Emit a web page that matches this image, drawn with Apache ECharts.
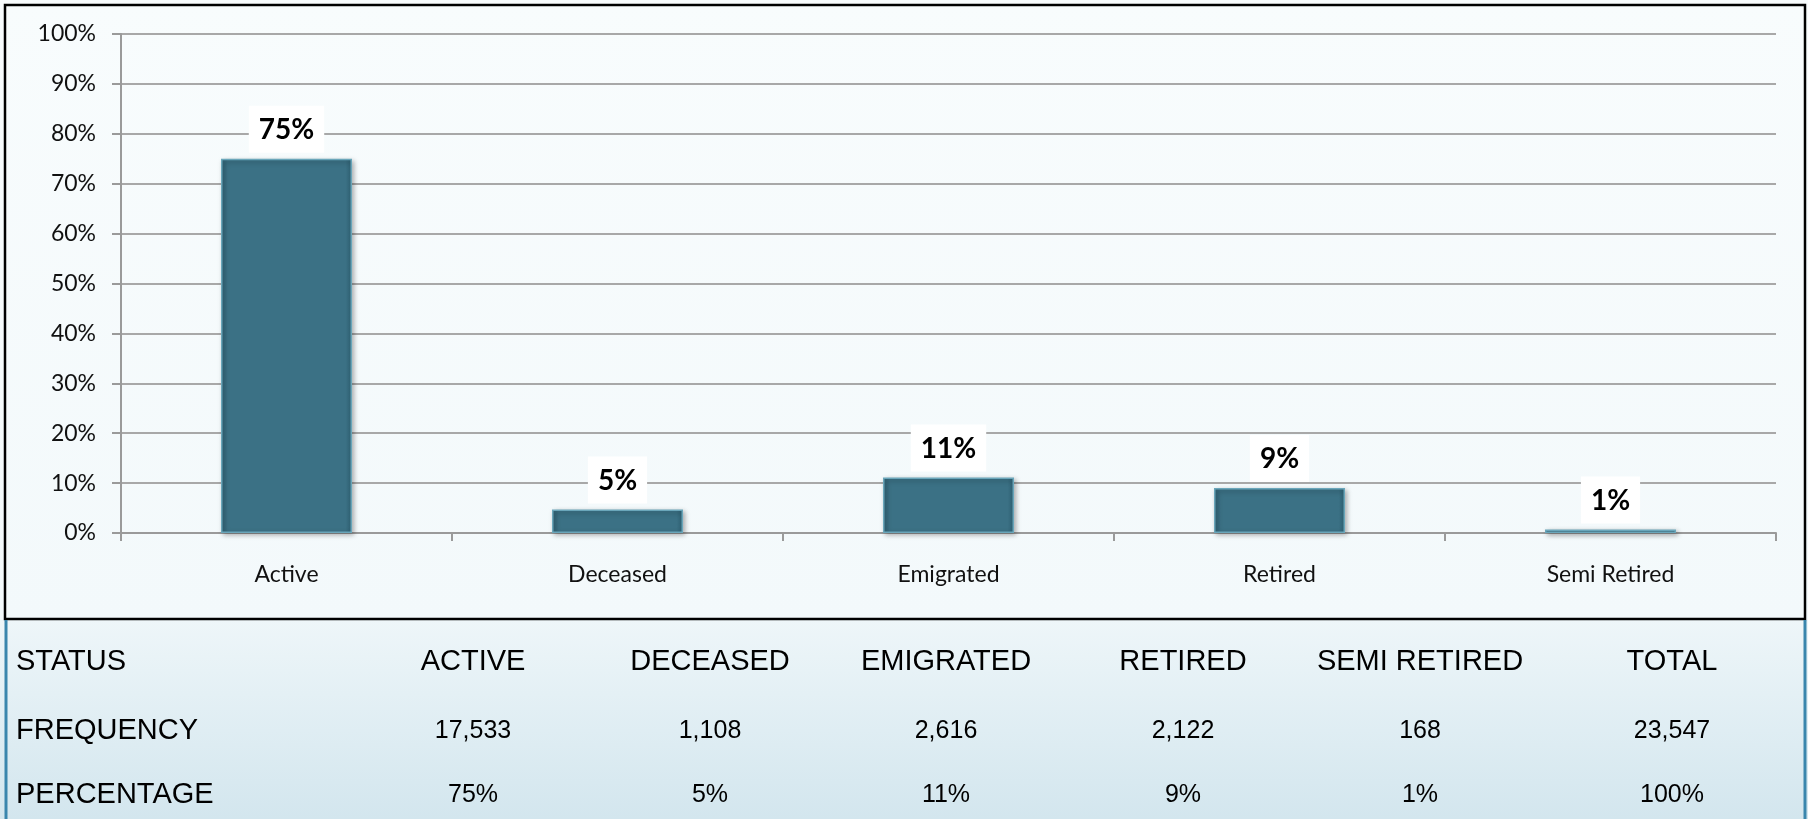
<!DOCTYPE html>
<html>
<head>
<meta charset="utf-8">
<script src="https://cdn.jsdelivr.net/npm/echarts@6/dist/echarts.min.js"></script>
<style>
  html, body { margin: 0; padding: 0; }
  #chart { width: 1808px; height: 819px; }
</style>
</head>
<body>
<div id="chart"></div>
<script>
const categories = ['Active', 'Deceased', 'Emigrated', 'Retired', 'Semi Retired']
const shareValues = [75, 4.7, 11.1, 9.0, 0.7]
const shareLabels = ['75%', '5%', '11%', '9%', '1%']

const rowTitles = ['STATUS', 'FREQUENCY', 'PERCENTAGE']
const statusHeaders = ['ACTIVE', 'DECEASED', 'EMIGRATED', 'RETIRED', 'SEMI RETIRED', 'TOTAL']
const frequencies = ['17,533', '1,108', '2,616', '2,122', '168', '23,547']
const percentages = ['75%', '5%', '11%', '9%', '1%', '100%']

// table layout
const colX = [473, 710, 946, 1183, 1420, 1672]
const rowY = [662, 731, 795]

function tableText() {
  const els = []
  const rows = [statusHeaders, frequencies, percentages]
  rowTitles.forEach((t, r) => {
    els.push({
      type: 'text', x: 16, y: rowY[r],
      style: {
        text: t, font: '29px "Liberation Sans", Arial, sans-serif', fill: '#000',
        align: 'left', verticalAlign: 'middle',
      },
    })
  })
  rows.forEach((row, r) => {
    const size = r === 0 ? 29 : 25
    row.forEach((t, i) => {
      els.push({
        type: 'text', x: colX[i], y: rowY[r],
        style: {
          text: t, font: `${size}px "Liberation Sans", Arial, sans-serif`, fill: '#000',
          align: 'center', verticalAlign: 'middle',
        },
      })
    })
  })
  return els
}

const chart = echarts.init(document.getElementById('chart'))
chart.setOption({
  animation: false,
  backgroundColor: {
    type: 'linear', x: 0, y: 0, x2: 0, y2: 1,
    colorStops: [
      { offset: 0, color: '#f8fcfd' },
      { offset: 0.756, color: '#f3f9fb' },
      { offset: 0.757, color: '#eef6f9' },
      { offset: 1, color: '#d3e6ee' },
    ],
  },
  grid: { left: 121, right: 32, top: 34, bottom: 286 },
  xAxis: {
    type: 'category',
    data: categories,
    axisLine: { lineStyle: { color: '#9a9a9a', width: 2 } },
    axisTick: { show: true, length: 8, lineStyle: { color: '#9a9a9a', width: 2 } },
    axisLabel: { color: '#111', fontFamily: 'Lato', fontSize: 23, margin: 30 },
  },
  yAxis: {
    type: 'value',
    min: 0, max: 100, interval: 10,
    axisLine: { show: true, lineStyle: { color: '#9a9a9a', width: 2 } },
    axisTick: { show: true, length: 9, lineStyle: { color: '#9a9a9a', width: 2 } },
    axisLabel: { color: '#111', fontFamily: 'Lato', fontSize: 23, margin: 25, formatter: '{value}%' },
    splitLine: { lineStyle: { color: '#a8a8a8', width: 2 } },
  },
  series: [
    {
      type: 'bar',
      data: shareValues,
      barWidth: 131,
      itemStyle: {
        color: {
          type: 'linear', x: 0, y: 0, x2: 1, y2: 0,
          colorStops: [
            { offset: 0, color: '#2f6173' },
            { offset: 0.05, color: '#3b7185' },
            { offset: 0.95, color: '#3b7185' },
            { offset: 1, color: '#2f6173' },
          ],
        },
        borderColor: '#6aa6ba',
        borderWidth: 1.5,
        shadowColor: 'rgba(0,0,0,0.35)',
        shadowBlur: 5,
        shadowOffsetX: 2,
        shadowOffsetY: 2,
      },
      label: {
        show: true,
        position: 'top',
        distance: 6,
        formatter: (p) => shareLabels[p.dataIndex],
        fontFamily: 'Lato',
        fontWeight: 'bold',
        fontSize: 28,
        color: '#000',
        backgroundColor: '#ffffff',
        padding: [10, 10, 9, 10],
      },
    },
  ],
  graphic: {
    elements: [
      {
        type: 'rect', shape: { x: 5, y: 5, width: 1800, height: 614 },
        style: { fill: null, stroke: '#000', lineWidth: 2.5 }, z: 10,
      },
      {
        type: 'line', shape: { x1: 6, y1: 620, x2: 6, y2: 819 },
        style: { stroke: '#3a86ad', lineWidth: 3 }, z: 10,
      },
      {
        type: 'line', shape: { x1: 1805, y1: 620, x2: 1805, y2: 819 },
        style: { stroke: '#3a86ad', lineWidth: 3 }, z: 10,
      },
      ...tableText(),
    ],
  },
})
</script>
</body>
</html>
